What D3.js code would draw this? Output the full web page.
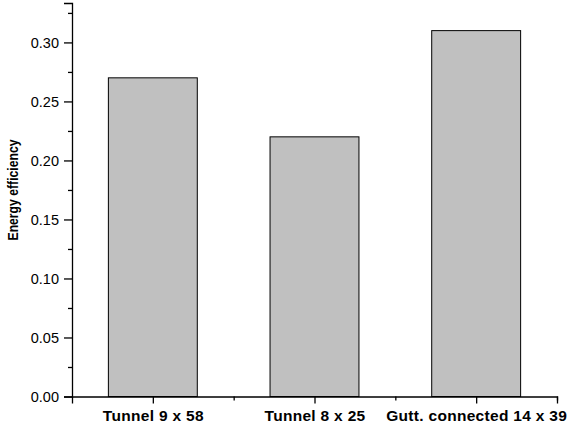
<!DOCTYPE html>
<html>
<head>
<meta charset="utf-8">
<script src="https://cdn.jsdelivr.net/npm/d3@7"></script>
<style>
  html, body { margin: 0; padding: 0; background: #fff; }
  svg { display: block; }
  .tick text { font-family: "Liberation Sans", Arial, sans-serif; }
</style>
</head>
<body>
<svg id="chart" width="568" height="426"></svg>
<script>
// Energy efficiency per configuration
const categories = ["Tunnel 9 x 58", "Tunnel 8 x 25", "Gutt. connected 14 x 39"];
const efficiency = [0.27, 0.22, 0.31];
const yTicks = [0.00, 0.05, 0.10, 0.15, 0.20, 0.25, 0.30];
const yMinorTicks = [0.025, 0.075, 0.125, 0.175, 0.225, 0.275, 0.325];
const yLabel = "Energy efficiency";

const svg = d3.select("#chart");
const margin = { left: 72, right: 11, top: 3 };
const width = 568;
const plotBottom = 396.5;
const yMax = 0.3334;

const y = d3.scaleLinear()
  .domain([0, yMax])
  .range([plotBottom, margin.top]);

// category positions: band centers on integer slots, axis spans half a slot either side
const x = d3.scaleLinear()
  .domain([0.5, categories.length + 0.5])
  .range([margin.left, width - margin.right]);
const slot = x(2) - x(1);
const barW = slot * 0.55;

// bars
svg.append("g")
  .selectAll("rect")
  .data(efficiency)
  .join("rect")
  .attr("x", (d, i) => x(i + 1) - barW / 2)
  .attr("y", d => y(d))
  .attr("width", barW)
  .attr("height", d => y(0) - y(d))
  .attr("fill", "#c0c0c0")
  .attr("stroke", "#000")
  .attr("stroke-width", 1);

// y axis: major ticks with labels, minor ticks without
const yAxis = svg.append("g")
  .attr("transform", `translate(${margin.left},0)`)
  .call(d3.axisLeft(y).tickValues(yTicks).tickFormat(d3.format(".2f")).tickSizeOuter(0).tickSize(8).tickPadding(5));
yAxis.select(".domain").attr("stroke-width", 1.3);
yAxis.selectAll(".tick line").attr("stroke-width", 1.3);
yAxis.selectAll(".tick text").attr("font-size", 14.5).attr("fill", "#000");

const yMinor = svg.append("g")
  .attr("transform", `translate(${margin.left},0)`)
  .call(d3.axisLeft(y).tickValues(yMinorTicks).tickFormat("").tickSize(4).tickSizeOuter(0));
yMinor.select(".domain").remove();
yMinor.selectAll(".tick line").attr("stroke-width", 1.3);

// x axis: major ticks at categories, minor ticks between them
const xAxis = svg.append("g")
  .attr("transform", `translate(0,${plotBottom})`)
  .call(d3.axisBottom(x).tickValues(d3.range(1, categories.length + 1))
    .tickFormat(i => categories[i - 1]).tickSizeOuter(0).tickSize(7).tickPadding(6.5));
xAxis.select(".domain").attr("stroke-width", 1.3);
xAxis.selectAll(".tick line").attr("stroke-width", 1.3);
xAxis.selectAll(".tick text")
  .attr("font-size", 15.5)
  .attr("font-weight", "bold")
  .attr("letter-spacing", 0.3)
  .attr("fill", "#000");

const xMinor = svg.append("g")
  .attr("transform", `translate(0,${plotBottom})`)
  .call(d3.axisBottom(x).tickValues(d3.range(1.5, categories.length + 1, 1)).tickFormat("").tickSize(4).tickSizeOuter(0));
xMinor.select(".domain").remove();
xMinor.selectAll(".tick line").attr("stroke-width", 1.3);

// y axis title, set in a condensed bold face
svg.append("text")
  .attr("transform", "translate(17.5,190) rotate(-90)")
  .attr("text-anchor", "middle")
  .attr("font-family", "'Liberation Sans', Arial, sans-serif")
  .attr("font-size", 15.5)
  .attr("font-weight", "bold")
  .attr("textLength", 101)
  .attr("lengthAdjust", "spacingAndGlyphs")
  .attr("fill", "#000")
  .text(yLabel);
</script>
</body>
</html>
